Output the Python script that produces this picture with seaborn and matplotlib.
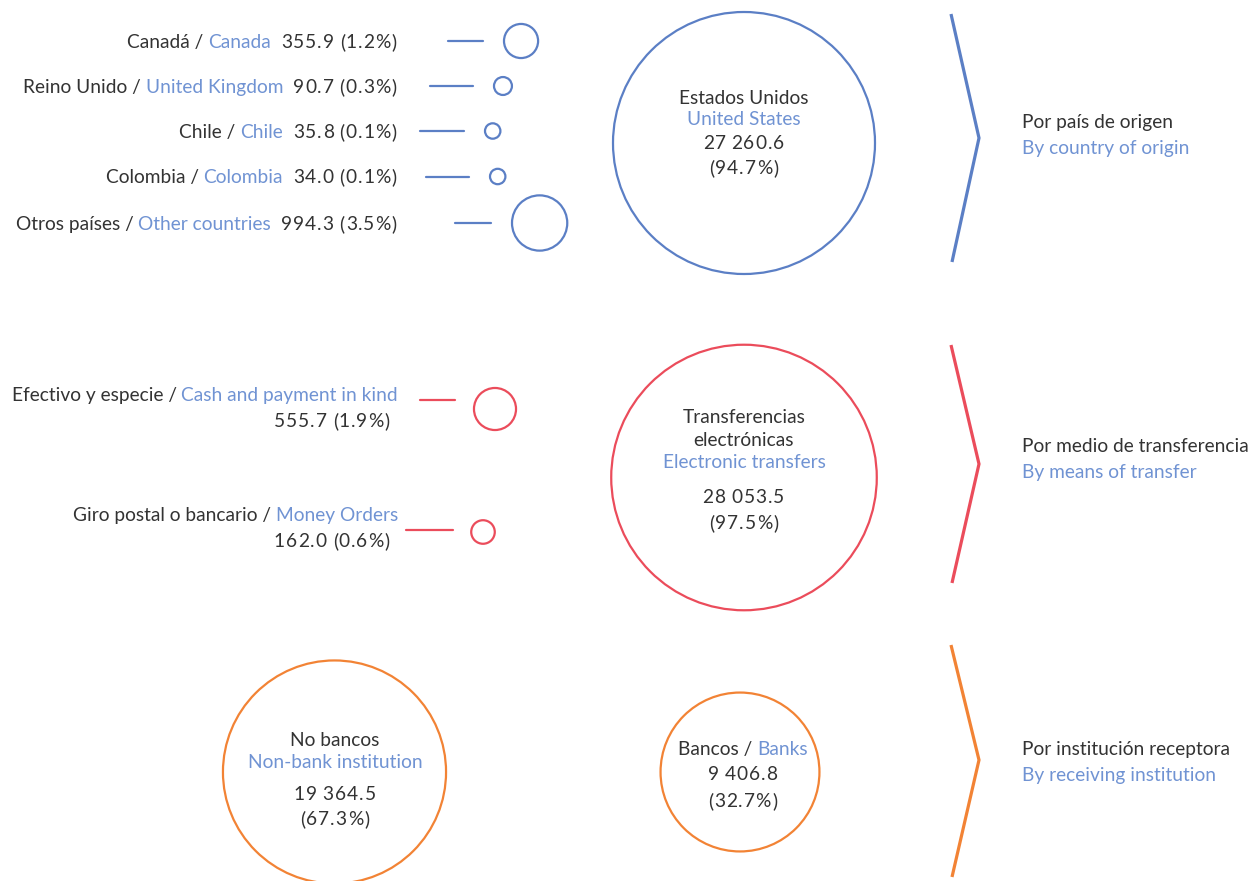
import numpy as np
import pandas as pd
import matplotlib
matplotlib.use("Agg")
import matplotlib.pyplot as plt
import seaborn as sns

# Remesas: distribucion por pais de origen, medio de transferencia e institucion
origin_es = ["Canadá", "Reino Unido", "Chile", "Colombia", "Otros países"]
origin_en = ["Canada", "United Kingdom", "Chile", "Colombia", "Other countries"]
origin_vals = [355.9, 90.7, 35.8, 34.0, 994.3]
origin_pct = [1.2, 0.3, 0.1, 0.1, 3.5]
us_val, us_pct = 27260.6, 94.7

means_es = ["Efectivo y especie", "Giro postal o bancario"]
means_en = ["Cash and payment in kind", "Money Orders"]
means_vals = [555.7, 162.0]
means_pct = [1.9, 0.6]
transfer_val, transfer_pct = 28053.5, 97.5

inst_es = ["No bancos", "Bancos"]
inst_en = ["Non-bank institution", "Banks"]
inst_vals = [19364.5, 9406.8]
inst_pct = [67.3, 32.7]

section_es = ["Por país de origen", "Por medio de transferencia", "Por institución receptora"]
section_en = ["By country of origin", "By means of transfer", "By receiving institution"]

BLUE = "#5b7fc5"
LIGHT = "#7093d3"
RED = "#eb4c5b"
ORANGE = "#f28335"
DARK = "#333333"
FS = 13.8
TRACK = 1.0  # extra spacing for figures, the original uses wide digits

sns.set_theme(style="white")
plt.rcParams["font.family"] = ["Lato", "DejaVu Sans"]

fig = plt.figure(figsize=(12.51, 8.81), dpi=100)
ax = fig.add_axes([0, 0, 1, 1])
ax.set_xlim(0, 1251)
ax.set_ylim(881, 0)
ax.axis("off")
renderer = fig.canvas.get_renderer()


def radius(v):
    # bubble radius in pixels, anchored on the largest bubble
    return max(7.7, 131 * (v / us_val) ** 0.47)


def fmt(v):
    return f"{v:,.1f}".replace(",", " ")


_wcache = {}


def width(s):
    if s not in _wcache:
        t = ax.text(0, 0, "|" + s + "|", fontsize=FS)
        w = t.get_window_extent(renderer).width
        t.remove()
        t = ax.text(0, 0, "||", fontsize=FS)
        w2 = t.get_window_extent(renderer).width
        t.remove()
        _wcache[s] = w - w2
    return _wcache[s]


def pieces(parts):
    # split tracked parts into single characters
    out = []
    for p in parts:
        s, c = p[0], p[1]
        tr = p[2] if len(p) > 2 else 0
        if tr:
            for ch in s:
                out.append((ch, c, width(ch) + (0 if ch == " " else tr)))
        else:
            out.append((s, c, width(s)))
    return out


def rich(x, y, parts, ha="right"):
    items = pieces(parts)
    total = sum(w for _, _, w in items)
    cur = {"right": x - total, "center": x - total / 2, "left": x}[ha]
    base = y + FS * 100 / 72 * 0.36
    for s, c, w in items:
        ax.text(cur, base, s, color=c, fontsize=FS, va="baseline", ha="left")
        cur += w


def bubbles(xs, ys, vals, color):
    df = pd.DataFrame({"x": xs, "y": ys, "r": [radius(v) for v in vals]})
    df["s"] = (2 * df["r"] * 0.72) ** 2
    sns.scatterplot(data=df, x="x", y="y", s=df["s"].values, facecolors="none",
                    edgecolor=color, linewidth=1.6, ax=ax, legend=False, zorder=3)


def chevron(y0, ymid, y1, color):
    ax.plot([951, 979, 952], [y0, ymid, y1], color=color, lw=2.3,
            solid_joinstyle="miter", solid_capstyle="butt")


# --- pais de origen ---
row_y = [41, 86, 131, 176.5, 223]
line_x0 = [448, 430, 420, 426, 455]
line_x1 = [483, 473, 464, 469, 491]
cx = [x1 + 21 + radius(v) for x1, v in zip(line_x1, origin_vals)]
for i in range(len(origin_es)):
    rich(398, row_y[i], [(origin_es[i] + " / ", DARK), (origin_en[i], LIGHT),
                         ("  ", DARK),
                         (f"{fmt(origin_vals[i])} ({origin_pct[i]}%)", DARK, TRACK)])
    ax.plot([line_x0[i], line_x1[i]], [row_y[i], row_y[i]], color=BLUE, lw=1.6)
bubbles(cx, row_y, origin_vals, BLUE)

bubbles([744], [143], [us_val], BLUE)
for s, c, yy, tr in [("Estados Unidos", DARK, 97, 0), ("United States", LIGHT, 118, 0),
                     (fmt(us_val), DARK, 142, TRACK), (f"({us_pct}%)", DARK, 167, TRACK)]:
    rich(744, yy, [(s, c, tr)], ha="center")
chevron(14, 138, 262, BLUE)

# --- medio de transferencia ---
means_y = [394, 514]
means_line_y = [400, 530]
means_line_x = [(420, 455), (406, 453)]
means_cx = [495, 483]
means_cy = [409, 532]
for i in range(len(means_es)):
    rich(398, means_y[i], [(means_es[i] + " / ", DARK), (means_en[i], LIGHT)])
    rich(391, means_y[i] + 26, [(f"{fmt(means_vals[i])} ({means_pct[i]}%)", DARK, TRACK)])
    ax.plot(means_line_x[i], [means_line_y[i]] * 2, color=RED, lw=1.6)
bubbles(means_cx, means_cy, means_vals, RED)

bubbles([744], [477.5], [transfer_val], RED)
for s, c, yy, tr in [("Transferencias", DARK, 416, 0), ("electrónicas", DARK, 439, 0),
                     ("Electronic transfers", LIGHT, 461, 0),
                     (fmt(transfer_val), DARK, 496, TRACK),
                     (f"({transfer_pct}%)", DARK, 522, TRACK)]:
    rich(744, yy, [(s, c, tr)], ha="center")
chevron(345, 464, 583, RED)

# --- institucion receptora ---
bubbles([334.5, 740], [772, 772], inst_vals, ORANGE)
for s, c, yy, tr in [(inst_es[0], DARK, 739, 0), (inst_en[0], LIGHT, 761, 0),
                     (fmt(inst_vals[0]), DARK, 793, TRACK),
                     (f"({inst_pct[0]}%)", DARK, 818, TRACK)]:
    rich(335, yy, [(s, c, tr)], ha="center")
rich(743, 748, [(inst_es[1] + " / ", DARK), (inst_en[1], LIGHT)], ha="center")
rich(743, 773, [(fmt(inst_vals[1]), DARK, TRACK)], ha="center")
rich(743, 800, [(f"({inst_pct[1]}%)", DARK, TRACK)], ha="center")
chevron(645, 760, 877, ORANGE)

# --- etiquetas de seccion ---
for es, en, yy in zip(section_es, section_en, [121, 445, 748]):
    rich(1022, yy, [(es, DARK)], ha="left")
    rich(1022, yy + 26, [(en, LIGHT)], ha="left")

fig.savefig("out.png", dpi=100, facecolor="white")
